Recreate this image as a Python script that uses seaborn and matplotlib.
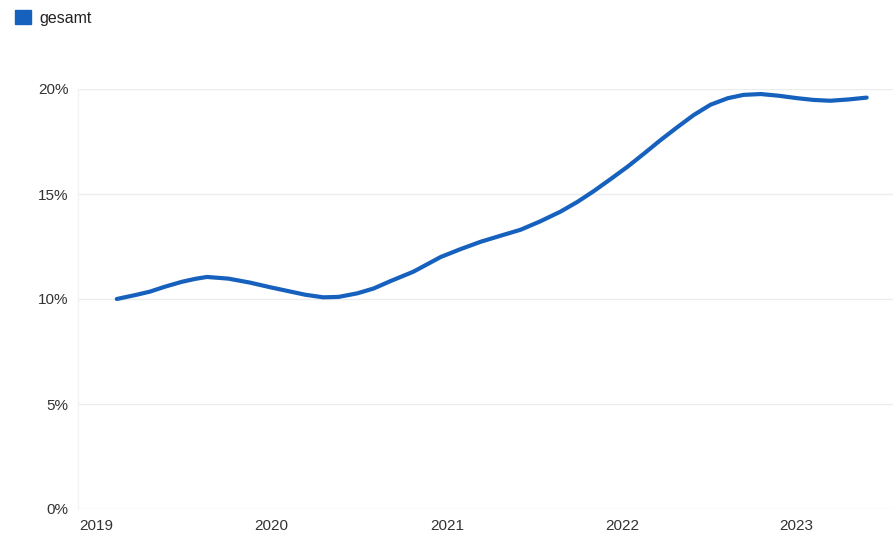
import matplotlib
matplotlib.use("Agg")
import matplotlib.pyplot as plt
import matplotlib.dates as mdates
from matplotlib.patches import Patch
from matplotlib.ticker import FuncFormatter
import pandas as pd
import seaborn as sns

# Values
dates = ["2019-02-12", "2019-03-23", "2019-04-22", "2019-05-24", "2019-06-28",
         "2019-07-26", "2019-08-19", "2019-10-03", "2019-11-17", "2019-12-29",
         "2020-02-10", "2020-03-12", "2020-04-18", "2020-05-20", "2020-06-28",
         "2020-08-01", "2020-09-05", "2020-10-23", "2020-12-19", "2021-01-30",
         "2021-03-13", "2021-04-24", "2021-06-04", "2021-07-15", "2021-08-26",
         "2021-09-30", "2021-11-03", "2021-12-08", "2022-01-13", "2022-02-15",
         "2022-03-23", "2022-04-25", "2022-05-31", "2022-07-05", "2022-08-10",
         "2022-09-12", "2022-10-18", "2022-11-24", "2023-01-03", "2023-02-05",
         "2023-03-12", "2023-04-18", "2023-05-27"]
gesamt = [10.00, 10.19, 10.35, 10.59, 10.82,
          10.96, 11.05, 10.97, 10.78, 10.56,
          10.35, 10.20, 10.08, 10.10, 10.27,
          10.50, 10.85, 11.30, 12.00, 12.38,
          12.73, 13.02, 13.30, 13.70, 14.16,
          14.62, 15.13, 15.70, 16.30, 16.90,
          17.57, 18.15, 18.76, 19.25, 19.56,
          19.72, 19.76, 19.68, 19.56, 19.48,
          19.44, 19.50, 19.59]
series_name = "gesamt"
y_ticks = [0, 5, 10, 15, 20]
x_tick_years = [2019, 2020, 2021, 2022, 2023]

df = pd.DataFrame({"Datum": pd.to_datetime(dates), "Wert": gesamt})

sns.set_theme(style="white")
plt.rcParams["font.family"] = ["Liberation Sans", "DejaVu Sans"]

W, H = 893, 539
fig = plt.figure(figsize=(W / 100, H / 100), dpi=100)
ax = fig.add_axes([78 / W, (H - 509) / H, (W - 78) / W, 420 / H])

line_color = "#1561bd"
sns.lineplot(data=df, x="Datum", y="Wert", ax=ax, color=line_color,
             linewidth=3.0, legend=False)
for l in ax.lines:
    l.set_solid_capstyle("round")
    l.set_solid_joinstyle("round")

ax.set_ylim(0, 20)
ax.set_xlim(pd.Timestamp("2018-11-23"), pd.Timestamp("2023-07-21"))
ax.set_yticks(y_ticks)
ax.yaxis.set_major_formatter(FuncFormatter(lambda v, p: f"{int(v)}%"))
ax.set_xticks([pd.Timestamp(f"{y}-01-01") for y in x_tick_years])
ax.xaxis.set_major_formatter(mdates.DateFormatter("%Y"))

ax.grid(axis="y", color="#ececec", linewidth=1.0)
ax.set_axisbelow(True)
for s in ["top", "right", "bottom"]:
    ax.spines[s].set_visible(False)
ax.spines["left"].set_color("#f3f3f3")
ax.spines["left"].set_linewidth(1.0)

ax.tick_params(axis="both", length=0, labelsize=11, colors="#333333")
ax.tick_params(axis="y", pad=7)
ax.tick_params(axis="x", pad=7)
ax.set_xlabel("")
ax.set_ylabel("")

fig.legend(handles=[Patch(facecolor=line_color, edgecolor=line_color, label=series_name)],
           loc="upper left", bbox_to_anchor=(15 / W, 1 - 10 / H),
           frameon=False, borderpad=0, borderaxespad=0,
           handlelength=1.0, handleheight=1.0, handletextpad=0.55,
           fontsize=11.5, labelcolor="#222222")

fig.savefig("out.png", dpi=100)
